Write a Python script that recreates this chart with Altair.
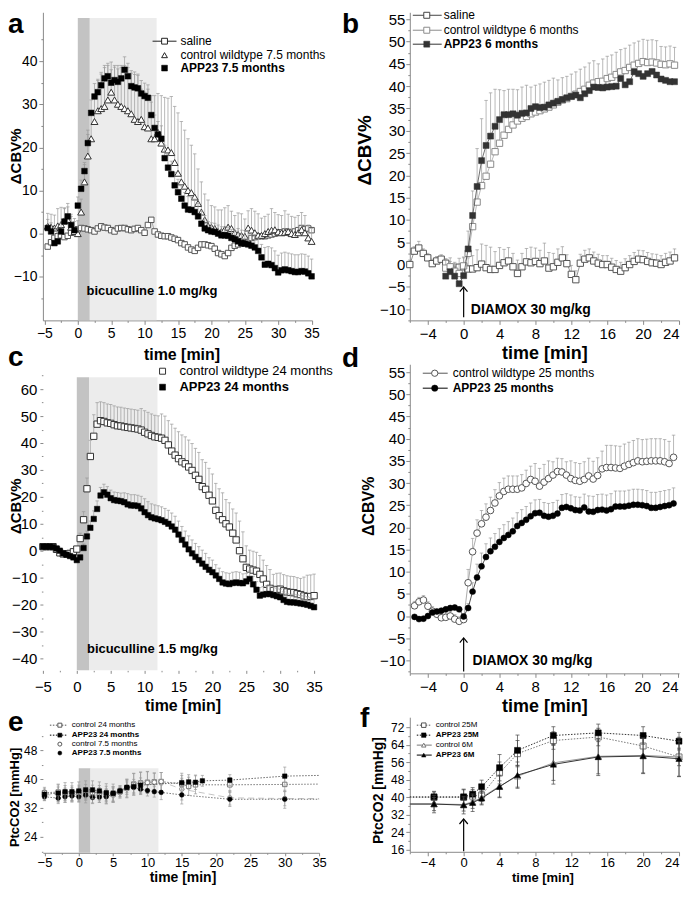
import altair as alt
import pandas as pd

FONT = "Liberation Sans"

# ====================== DATA ======================
# ---- panel a: bicuculline 1.0 mg/kg, 7.5 months (0.5-min grid, -4.5 .. 35 min)
a_t = [round(-4.5 + 0.5 * i, 1) for i in range(80)]
a_saline = [-3, -2, -1, -0.6, -0.4, -0.8, -0.5, 0.2, 0.5, 1,
            1.3, 1.2, 1.0, 0.8, 0.5, 1.2, 1.7, 1.4, 1.3, 0.8,
            0.5, 1.2, 1.3, 1.3, 1.0, 0.8, 1.1, 1.3, 0.8, 0.2,
            2.0, 3.2, 0.5, -0.2, -0.5, -0.6, -0.6, -0.9, -1.2, -1.5,
            -2.2, -2.5, -3.2, -3.7, -4.0, -3.3, -2.5, -2.5, -2.7, -2.9,
            -3.5, -4.5, -4.8, -5.2, -4.5, -3.3, -2.8, -2.5, -2.3, -2.2,
            -1.5, -1.0, -0.8, -0.6, -0.6, -0.6, -0.4, -0.2, 0, 0.2,
            0.3, 0.5, 0.4, 0.2, 0.5, 0.8, 1.3, 1.0, 1.2, 0.8]
a_ctrl = [1.7, 1.5, 1.3, 1.8, 2.1, 3.0, 3.2, 1.5, 0.5, 0,
          5, 12, 18, 22, 26, 28.5, 29, 29.5, 31, 32.8,
          31, 30, 29.5, 29, 28.5, 27.8, 26.5, 26, 26.5, 24.8,
          24.5, 22, 22, 23.5, 21, 19.6, 19.4, 18.8, 16.5, 14,
          12, 11, 10, 9.5, 8.5, 7, 5, 3.2, 1.8, 1.5,
          1.2, 0.5, 0.5, 1.0, 1.5, 1.2, 0.2, -0.2, -0.4, -0.6,
          1.3, 0.8, 0.2, -0.4, -0.4, 0, 0.5, 0.8, 0.9, 0.4,
          0.2, 0.3, 0.5, 0, -0.2, 0.2, 0.9, 0.2, -1.0, -1.8]
a_ctrl_err = [3, 3, 3, 4, 4, 3, 3, 3, 3, 3,
              3, 4, 5, 6, 6, 7, 8, 9, 8, 7,
              8, 9, 9, 10, 10, 10, 11, 11, 7, 8,
              9, 10, 10, 9, 11, 12, 12, 13, 13, 14,
              14, 13, 12, 11, 10, 8, 7, 6, 6, 5,
              5, 5, 5, 5, 5, 4, 4, 5, 5, 4,
              4, 5, 5, 5, 4, 4, 4, 5, 4, 4,
              4, 5, 4, 4, 4, 4, 4, 4, 3, 3]
a_app = [1.3, 0.5, -2.2, -1.8, 0.5, 2.8, 4.0, 2.0, 0.8, 6.5,
         10.4, 14.5, 21, 28, 31.8, 32.8, 34.4, 36, 36.5, 35,
         35.6, 35.2, 36, 38, 36.5, 34.2, 33.9, 33.7, 32.5, 31.9,
         31.5, 27.5, 24.5, 23, 22, 17.5, 15.3, 13.8, 11.2, 9.6,
         8.1, 6.5, 5.6, 5.5, 5, 4, 2.3, 1.2, 0.8, 0.5,
         0.4, 0, -0.4, -0.4, -0.5, -1, -1.3, -1.8, -2.2, -2.3,
         -2.5, -2.8, -3.2, -4, -5.5, -7.2, -7, -7.3, -8, -9,
         -8.5, -8.3, -8.5, -8.7, -8.9, -8.9, -8.7, -8.8, -9.2, -9.9]
a_app_err = [2, 2, 2, 2, 2, 3, 3, 2, 2, 2,
             2, 2, 3, 3, 3, 3, 3, 3, 3, 3,
             3, 3, 3, 3, 3, 3, 3, 3, 3, 3,
             3, 3, 3, 3, 3, 3, 3, 3, 3, 3,
             3, 3, 3, 3, 3, 3, 3, 3, 2, 2,
             2, 2, 2, 2, 2, 2, 2, 3, 3, 3,
             3, 3, 3, 3, 3, 4, 4, 4, 4, 4,
             4, 4, 4, 4, 4, 4, 4, 4, 4, 4]

# ---- panel b: DIAMOX, 6 months
b_t_saline = [round(-6 + 0.5 * i, 1) for i in range(60)]
b_saline = [0, 3.0, 3.7, 2.5, 1.5, 0.2, 0.8, 1.2, 0.3, -0.8,
            -1.3, -0.6, -0.5, -1.0, -1.0, -0.7, 0.1, -0.7, -1.1, -1.1,
            -0.2, 0.4, 0.8, -0.5, -2.0, -0.5, 0.6, 0.4, 0.7, 0.2,
            0.8, -0.8, -0.5, 0.5, 1.5, 0.2, -2.2, -3.4, 0.3, 1.2,
            1.5, 0.8, 0.3, 0, 0, -0.6, -1.1, -1.5, -0.7, 0,
            0.7, 1.2, 1.1, 0.7, 0.4, 0.3, 0, 0.5, 0.8, 1.5]
b_saline_err = [1, 1, 1.5, 1, 1, 1, 1, 1, 1, 1.5,
                1.5, 2, 2, 2.5, 3, 4, 4.5, 5, 5, 4,
                4, 3, 3, 3, 3, 3, 3, 3.5, 3, 3,
                4, 3.5, 3, 3, 2.5, 2, 2, 2, 2, 2,
                2, 2, 2, 2, 2, 2, 2, 2, 2, 2,
                2, 2, 2, 2, 2, 2, 2, 2, 2, 2]
b_t = [round(-2 + 0.5 * i, 1) for i in range(52)]
b_ctrl = [-0.8, -0.5, -1.5, -2.0, -0.3, 2.5, 8.5, 14, 17.7, 19.8,
          22.5, 25.3, 27.2, 29, 30.3, 31.3, 32.2, 32.8, 33.2, 33.8,
          34.2, 34.5, 34.9, 35.3, 35.8, 36.4, 36.9, 37.2, 37.7, 38.2,
          38.8, 39.3, 40.2, 40.7, 41, 41.1, 41.7, 42, 42.6, 43.2,
          43.5, 44.2, 44.7, 45.1, 45.5, 45.3, 45.4, 45.2, 44.9, 44.8,
          45.0, 44.7]
b_ctrl_err = [2, 2, 2, 2, 2, 5, 8, 12, 15, 17,
              16, 14, 12, 10, 9, 8, 7, 7, 7, 6,
              6, 6, 6, 6, 6, 5, 5, 5, 5, 5,
              5, 5, 5, 5, 4, 5, 5, 5, 5, 5,
              5, 5, 5, 5, 5, 5, 5, 5, 4, 4,
              4, 4]
b_app = [-2.6, -1.6, -2.6, -4.3, -2.5, 3.5, 11, 17.5, 23.3, 26.7,
         28.8, 31, 32.5, 33.6, 33.6, 33.8, 33.5, 33.9, 34, 35,
         35.4, 35.2, 35.3, 35.8, 36.2, 36.6, 37, 37.4, 37.7, 38,
         37.4, 38.3, 39, 39.8, 39.7, 39.6, 39.8, 39.9, 40, 41.7,
         40.3, 41, 43.2, 42.8, 42.2, 42.8, 43.3, 42.5, 41.6, 41.3,
         41.0, 41.0]

# ---- panel c: bicuculline 1.5 mg/kg, 24 months (-5 .. 35 min)
c_t = [round(-5 + 0.5 * i, 1) for i in range(81)]
c_ctrl = [1.5, 1.5, 1.5, 1.5, 0.5, -0.8, -1.2, -1.2, -1.0, -0.4,
          0.6, 4.5, 11.5, 23, 35, 42.5, 47, 48.3, 48, 47.5,
          47.3, 46.8, 46.4, 46.3, 46, 45.8, 45.6, 45.4, 45.2, 44.8,
          44, 43.4, 42.8, 42.3, 42.1, 41.8, 41, 39.3, 37, 35.5,
          34.2, 33, 32.3, 31.1, 29.8, 28, 26.5, 23.8, 22.8, 20.6,
          18.5, 15, 13, 11.5, 10, 8.8, 6.5, 4, 0, -3,
          -6.2, -6.8, -7.2, -7.6, -8.8, -10.5, -12.5, -14, -14.8, -14.4,
          -14.3, -14.9, -15.3, -15.5, -15.6, -16, -16.3, -16.8, -17.1, -17,
          -16.7]
c_ctrl_err = [1, 1, 1, 1, 1, 1, 1, 1, 1, 1,
              1, 2, 3, 4, 6, 8, 8, 7, 7, 7,
              7, 7, 7, 7, 7, 7, 7, 7, 7, 8,
              8, 8, 8, 8, 8, 9, 9, 9, 10, 10,
              10, 10, 10, 10, 10, 10, 10, 10, 10, 10,
              10, 10, 10, 10, 9, 9, 9, 10, 11, 10,
              8, 7, 7, 7, 7, 7, 7, 7, 6, 6,
              6, 6, 6, 6, 6, 6, 6, 7, 8, 8,
              8]
c_app = [1.5, 1.5, 1.5, 1.4, 0.8, 0, -1.0, -1.5, -2.0, -2.5,
         -3.5, -2.5, 1, 5.3, 8.5, 11.8, 15.5, 20.5, 21.7, 20.8,
         19.5, 18.8, 18.6, 18.4, 18, 17.2, 16.8, 16.8, 16.6, 15.7,
         14.3, 13.2, 12.4, 12, 11.7, 11.3, 10.7, 10, 9, 7.8,
         6, 4, 2.3, 0.5, -1, -2.3, -3.5, -4.8, -6, -7.1,
         -8, -9.2, -10.5, -11.8, -12.2, -12.4, -12, -11.8, -12, -12.1,
         -11.4, -10.5, -12.5, -14.5, -16.7, -16.3, -16.1, -16.1, -16.5, -16.9,
         -17.3, -18.3, -19, -19.2, -19.2, -19.4, -19.6, -19.8, -20.1, -20.5,
         -21]
c_app_err = [0.5, 0.5, 0.5, 0.5, 0.5, 0.5, 0.5, 0.5, 0.5, 0.5,
             0.5, 1, 1.5, 2, 2.5, 3, 3, 3, 3, 3,
             3, 3, 3, 3, 3.5, 4, 4, 4, 4, 4.5,
             5, 5, 5, 5, 5, 5, 5, 5, 5, 5,
             5, 5, 5, 5, 5, 5, 5, 5, 5, 4.5,
             4.5, 4, 4, 4, 4, 4, 4, 4, 4, 3.5,
             3, 3, 3, 3, 3, 3, 3, 3, 3, 3,
             3, 3, 3, 3, 3, 3, 3, 3, 3, 3,
             3]

# ---- panel d: DIAMOX, 25 months (-5.5 .. 23.5 min)
d_t = [round(-5.5 + 0.5 * i, 1) for i in range(59)]
d_ctrl = [2.3, 3.2, 3.6, 2.2, 1.1, 0.4, -0.4, -0.3, 0, -0.7,
          -1.2, -0.8, 7.5, 14.5, 18.7, 20.8, 22.3, 23.8, 25.5, 27.1,
          28.1, 28.6, 28.6, 28.6, 28.9, 29.9, 30.8, 30.4, 29.3, 30.2,
          31, 31.8, 32.6, 32.5, 31.8, 31, 30.6, 30.4, 30.8, 31.6,
          30.9, 31.7, 33.2, 33.5, 33.5, 33.4, 33.3, 33.8, 34.2, 34.6,
          35, 34.8, 34.9, 35, 35, 35, 34.8, 34.4, 35.8]
d_ctrl_err = [1, 1, 1, 1, 1, 1, 1, 1, 1, 1,
              1, 1, 3, 3, 3, 3, 3, 3, 3, 3,
              3, 3, 3, 3, 3, 3, 3, 4, 4, 4,
              4, 3, 3, 3, 3, 4, 4, 4, 4, 4,
              4, 4, 4, 5, 5, 5, 5, 5, 5, 5,
              5, 5, 5, 5, 5, 5, 5, 5, 5]
d_app = [-0.2, -0.7, -0.6, 0, 0.8, 1.0, 1.2, 1.5, 1.8, 1.9,
         1.5, -0.1, 1.8, 5.5, 8.7, 11.2, 13.3, 14.6, 15.6, 16.7,
         17.6, 18.3, 19.1, 20.3, 21, 21.7, 22.5, 23.2, 23.3, 22.6,
         22.4, 22.6, 23.1, 24.4, 24.6, 24.3, 23.9, 23.8, 24.5, 23.6,
         23.5, 23.9, 24, 23.8, 24.1, 24.7, 24.7, 24.7, 24.9, 25.1,
         25.1, 25, 24.8, 24.4, 24.4, 24.6, 24.8, 25, 25.4]
d_app_err = [0.5, 0.5, 0.5, 0.5, 0.5, 0.5, 0.5, 0.5, 0.5, 0.5,
             0.5, 0.5, 1, 2, 3, 3, 3, 3, 3, 3,
             3, 3, 3, 3, 3, 3, 3, 3, 3, 3,
             3, 3, 3, 3, 3, 3, 3, 3, 3, 3.5,
             3.5, 3.5, 3.5, 3.5, 3.5, 3.5, 3.5, 3.5, 3.5, 3.5,
             3.5, 3.5, 3.5, 3.5, 3.5, 3.5, 3.5, 3.5, 3.5]

# ---- panel e: PtcCO2 during bicuculline
e_ctrl24_t = [-5, -3, -2, -1, 0, 1, 2, 3, 4, 5, 6, 7, 8, 9, 10, 11, 12, 15, 16, 17, 22, 30, 35]
e_ctrl24_v = [36.2, 36.4, 36.2, 36.1, 36.3, 36.5, 36.3, 36.2, 36.0, 35.8, 36.5, 37.5,
              38.6, 38.9, 39.1, 39.2, 39.3, 38.6, 38.0, 38.4, 38.4, 38.5, 38.6]
e_ctrl24_err = [1.5, 2, 2, 2, 2, 2, 2, 2, 2, 2, 1.5, 2.5, 3, 3, 3, 2.5, 2.5, 3, 2.5, 2.5, 2, 2, 0]
e_app24_t = [-5, -3, -2, -1, 0, 1, 2, 3, 4, 5, 6, 7, 8, 9, 15, 16, 17, 18, 22, 30, 35]
e_app24_v = [35.8, 36.1, 36.5, 36.5, 36.7, 37, 37, 36.7, 36.2, 36.1, 36.7, 37.7, 37.9, 38.3,
             39, 39.2, 39.1, 39.5, 39.7, 40.8, 41.0]
e_app24_err = [1.5, 2.5, 2.5, 2.5, 2.5, 2.5, 2.5, 2.5, 2.5, 2.5, 1.5, 2, 2, 2, 2, 2, 2, 1.5, 1.5, 2.5, 0]
e_ctrl7_t = [-5, -3, -2, -1, 0, 1, 2, 3, 4, 5, 6, 7, 8, 9, 10, 11, 12, 15, 22, 30, 35]
e_ctrl7_v = [35.5, 35.8, 35.5, 35.6, 35.8, 35.4, 35.2, 35.6, 35.3, 35.5, 36.2, 37.3, 38.5, 38.9,
             39, 39.1, 39.3, 37.2, 34.8, 34.6, 34.6]
e_ctrl7_err = [1.5, 2, 2, 2, 2, 2, 2, 2, 2, 2, 1.5, 2.5, 3, 3, 3, 2.5, 2.5, 3, 2, 2, 0]
e_app7_t = [-5, -3, -2, -1, 0, 1, 2, 3, 4, 5, 6, 7, 8, 9, 10, 11, 12, 15, 22, 30, 35]
e_app7_v = [35.1, 34.7, 35.1, 35.3, 35.1, 35.6, 34.9, 35, 35.1, 35.9, 36.7, 37.7, 37.7, 37.2,
            36.8, 36.5, 36.3, 35.6, 34.4, 34.4, 34.4]
e_app7_err = [1, 1.5, 1.5, 1.5, 1.5, 1.5, 1.5, 1.5, 2, 2, 1, 1.5, 1.5, 1.5, 1.5, 1.5, 2, 2.5, 2, 2.5, 0]

# ---- panel f: PtcCO2 during DIAMOX
f_t = [-6, -3.3, 0, 1, 2, 4, 6, 10, 15, 20, 24]
f_ctrl25 = [39.9, 39.9, 39.9, 40.5, 41, 51.1, 59.9, 65.9, 67.5, 63.4, 58.4]
f_ctrl25_err = [0, 2.5, 3.5, 3, 3, 5, 6, 4, 4, 4, 4]
f_app25 = [40.2, 40.2, 40.2, 41.4, 44.8, 53.5, 61.4, 68.2, 69.4, 68.2, 65.6]
f_app25_err = [0, 2.5, 3.5, 3, 3, 6, 7, 4, 4, 4, 4]
f_ctrl6 = [36.9, 36.9, 36.7, 37.9, 39.9, 45.1, 49.6, 55.7, 58.7, 59.1, 58.4]
f_ctrl6_err = [0, 3, 3, 3, 3, 5, 5, 8, 8, 8, 9]
f_app6 = [36.9, 36.9, 36.4, 37.5, 39.5, 44.8, 50.1, 55.0, 58.4, 58.8, 57.6]
f_app6_err = [0, 4, 4, 4, 3, 5, 6, 9, 8.5, 8, 8]

for _t, _vs in [(a_t, [a_saline, a_ctrl, a_ctrl_err, a_app, a_app_err]),
                (b_t_saline, [b_saline, b_saline_err]), (b_t, [b_ctrl, b_ctrl_err, b_app]),
                (c_t, [c_ctrl, c_ctrl_err, c_app, c_app_err]),
                (d_t, [d_ctrl, d_ctrl_err, d_app, d_app_err])]:
    for _v in _vs:
        assert len(_v) == len(_t), (len(_v), len(_t))

# ====================== GEOMETRY (pixel layout of plot areas) ======================
GEOM = {
    "a": dict(L=43, T=12, R=313, B=321, xc=(78, 0, 145, 10), yc=(234, 0, 61, 40)),
    "b": dict(L=411, T=12, R=681, B=321, xc=(465, 0, 681, 24), yc=(265, 0, 19, 55)),
    "c": dict(L=43, T=365, R=316, B=672, xc=(77, 0, 315, 35), yc=(660, -40, 390, 60)),
    "d": dict(L=411, T=365, R=681, B=675, xc=(465, 0, 680, 24), yc=(617.5, 0, 373, 55)),
    "e": dict(L=43, T=719, R=320, B=855, xc=(79, 0, 320, 35), yc=(839, 24, 752, 48)),
    "f": dict(L=411, T=719, R=681, B=854, xc=(465, 0, 681, 24), yc=(852, 16, 729, 72)),
}
COLSP = GEOM["b"]["L"] - max(GEOM[k]["R"] for k in "ace")
ROWSP = GEOM["c"]["T"] - GEOM["a"]["B"]
ERRC = "#9a9a9a"
ONE = pd.DataFrame({"k": [0]})


def calib(c):
    p1, v1, p2, v2 = c
    return lambda p: v1 + (p - p1) * (v2 - v1) / (p2 - p1)


def ticks(lo, hi, step, major, llo, lhi, big=4, small=2):
    """Tick positions (major + minor) and the axis properties that label only the majors."""
    n = int(round((hi - lo) / step))
    vals = [round(lo + step * i, 3) for i in range(n + 1)]
    is_major = f"abs(datum.value % {major}) < 0.001"
    return dict(
        values=vals,
        labelExpr=f"({is_major} && datum.value >= {llo} && datum.value <= {lhi}) ? datum.label : ''",
        tickSize={"condition": {"test": is_major, "value": big}, "value": small},
    )


def ax(**kw):
    base = dict(grid=False, labelFont=FONT, titleFont=FONT, labelColor="black",
                titleColor="black", domainColor="#8a8a8a", tickColor="#8a8a8a",
                labelFlush=False, labelOverlap=False, titleFontWeight="bold",
                titleBaseline="middle", titleAlign="center")
    base.update(kw)
    return alt.Axis(**base)


class Panel:
    def __init__(self, key, xaxis, yaxis):
        g = GEOM[key]
        self.g = g
        fx, fy = calib(g["xc"]), calib(g["yc"])
        self.xd = [fx(g["L"]), fx(g["R"])]
        self.yd = [fy(g["B"]), fy(g["T"])]
        self.w = g["R"] - g["L"]
        self.h = g["B"] - g["T"]
        self.xs = alt.Scale(domain=self.xd, nice=False, zero=False)
        self.ys = alt.Scale(domain=self.yd, nice=False, zero=False)
        self.xa, self.ya = xaxis, yaxis
        self.layers = []

    def X(self, f):
        return alt.X(f"{f}:Q", scale=self.xs, axis=self.xa)

    def Y(self, f):
        return alt.Y(f"{f}:Q", scale=self.ys, axis=self.ya)

    def shade(self, spans, top):
        df = pd.DataFrame({"x0": [s[0] for s in spans], "x1": [s[1] for s in spans],
                           "y0": [self.yd[0]] * len(spans), "y1": [top] * len(spans),
                           "c": [s[2] for s in spans]})
        self.layers.append(alt.Chart(df).mark_rect().encode(
            x=self.X("x0"), x2="x1", y=self.Y("y0"), y2="y1",
            color=alt.Color("c:N", scale=None)))

    def series(self, t, v, err=None, sym=False, shape="square", open_=False, color="black",
               size=36, line=None, lw=0.8, lcolor=None, pfilter=None, ecolor=ERRC, capsize=12):
        df = pd.DataFrame({"t": t, "v": v})
        if err is not None:
            df["hi"] = [a + b for a, b in zip(v, err)]
            df["lo"] = [a - b for a, b in zip(v, err)] if sym else list(v)
            edf = df[[e > 0 for e in err]]
            self.layers.append(alt.Chart(edf).mark_rule(color=ecolor, strokeWidth=0.7).encode(
                x=self.X("t"), y=self.Y("lo"), y2="hi"))
            self.layers.append(alt.Chart(edf).mark_point(
                shape="stroke", size=capsize, color=ecolor, strokeWidth=0.7, opacity=1).encode(
                x=self.X("t"), y=self.Y("hi")))
            if sym:
                self.layers.append(alt.Chart(edf).mark_point(
                    shape="stroke", size=capsize, color=ecolor, strokeWidth=0.7, opacity=1).encode(
                    x=self.X("t"), y=self.Y("lo")))
        if line:
            kw = dict(color=lcolor or color, strokeWidth=lw)
            if line == "dot":
                kw["strokeDash"] = [1.5, 1.5]
            elif line == "dash":
                kw["strokeDash"] = [6, 4]
            self.layers.append(alt.Chart(df).mark_line(**kw).encode(x=self.X("t"), y=self.Y("v")))
        pdf = df if pfilter is None else df[[pfilter(x) for x in df["t"]]]
        if open_:
            m = alt.Chart(pdf).mark_point(shape=shape, size=size, filled=True, fill="white",
                                          stroke=color, strokeWidth=1, opacity=1)
        else:
            m = alt.Chart(pdf).mark_point(shape=shape, size=size, filled=True, fill=color,
                                          stroke=color, strokeWidth=0.5, opacity=1)
        self.layers.append(m.encode(x=self.X("t"), y=self.Y("v")))

    def note(self, t, v, s, fs=13):
        df = pd.DataFrame({"t": [t], "v": [v]})
        self.layers.append(alt.Chart(df).mark_text(
            text=s, align="left", baseline="middle", font=FONT, fontSize=fs,
            fontWeight="bold", color="black").encode(x=self.X("t"), y=self.Y("v")))

    def arrow(self, t, lo, hi, head=60):
        df = pd.DataFrame({"t": [t], "lo": [lo], "hi": [hi]})
        self.layers.append(alt.Chart(df).mark_rule(color="black", strokeWidth=1.2).encode(
            x=self.X("t"), y=self.Y("lo"), y2="hi"))
        self.layers.append(alt.Chart(df).mark_point(
            shape="M-1,0.9L0,-0.3L1,0.9", size=head, filled=False, color="black",
            strokeWidth=1.2, opacity=1).encode(x=self.X("t"), y=self.Y("hi")))

    def legend(self, items, xline, xsym, xtext, ys, fs, sym_size):
        for it, y in zip(items, ys):
            label, shape, open_, color, line, bold = it
            if line:
                kw = dict(color=color, strokeWidth=1)
                if line == "dot":
                    kw["strokeDash"] = [1.5, 1.5]
                self.layers.append(alt.Chart(ONE).mark_rule(**kw).encode(
                    x=alt.value(xline[0]), x2=alt.value(xline[1]), y=alt.value(y)))
            if open_:
                m = alt.Chart(ONE).mark_point(shape=shape, size=sym_size, filled=True, fill="white",
                                              stroke=color, strokeWidth=1, opacity=1)
            else:
                m = alt.Chart(ONE).mark_point(shape=shape, size=sym_size, filled=True, fill=color,
                                              stroke=color, strokeWidth=0.5, opacity=1)
            self.layers.append(m.encode(x=alt.value(xsym), y=alt.value(y)))
            self.layers.append(alt.Chart(ONE).mark_text(
                text=label, align="left", baseline="middle", font=FONT, fontSize=fs,
                fontWeight="bold" if bold else "normal", color="black").encode(
                x=alt.value(xtext), y=alt.value(y)))

    def letter(self, ch, dx, dy, fs=28):
        self.layers.append(alt.Chart(ONE).mark_text(
            text=ch, align="left", baseline="top", font=FONT, fontSize=fs,
            fontWeight="bold", color="black").encode(x=alt.value(dx), y=alt.value(dy)))

    def chart(self):
        return alt.layer(*self.layers).properties(width=self.w, height=self.h)


DARK = "#c3c3c3"
LIGHT = "#ececec"

# ---------------- panel a ----------------
pa = Panel("a",
           ax(**ticks(-5, 35, 2.5, 5, -5, 35, 4, 2), title="time [min]", titleFontSize=16,
              labelFontSize=14, labelPadding=2, titleX=139, titleY=34),
           ax(**ticks(-15, 45, 5, 10, -10, 40, 4, 2), title="ΔCBV%", titleFontSize=15,
              labelFontSize=14, labelPadding=2, titleX=-27, titleY=144))
pa.shade([(0, 1.8, DARK), (1.8, 11.8, LIGHT)], 50)
pa.series(a_t, a_saline, shape="square", open_=True, color="#555555", size=30, line="solid",
          lw=0.6, lcolor="#777777")
pa.series(a_t, a_ctrl, err=a_ctrl_err, shape="triangle-up", open_=True, color="#333333", size=48)
pa.series(a_t, a_app, err=a_app_err, shape="square", color="black", size=32)
pa.note(1.3, -13.2, "bicuculline 1.0 mg/kg", 13)
pa.legend([("saline", "square", True, "#222222", "solid", False),
           ("control wildtype 7.5 months", "triangle-up", True, "#222222", None, False),
           ("APP23 7.5 months", "square", False, "black", None, True)],
          (110, 134), 122, 138, [29, 43, 56], 12, 34)
pa.letter("a", -35, -1)

# ---------------- panel b ----------------
pb = Panel("b",
           ax(**ticks(-6, 24, 2, 4, -4, 24, 4, 2), title="time [min]", titleFontSize=18,
              labelFontSize=15, labelPadding=2, titleX=135, titleY=33, labelFlush=3),
           ax(**ticks(-12.5, 55, 2.5, 5, -10, 55, 4, 2), title="ΔCBV%", titleFontSize=19,
              labelFontSize=15, labelPadding=1, titleX=-45, titleY=138))
pb.series(b_t_saline, b_saline, err=b_saline_err, shape="square", open_=True, color="#555555",
          size=40, line="solid", lw=0.7, lcolor="#666666")
pb.series(b_t, b_ctrl, err=b_ctrl_err, shape="square", open_=True, color="#8c8c8c", size=40,
          line="solid", lw=0.7, lcolor="#9a9a9a")
pb.series(b_t, b_app, shape="square", color="#333333", size=36, line="solid", lw=0.7)
pb.arrow(0, -11.8, -5.3)
pb.note(0.8, -10.1, "DIAMOX 30 mg/kg", 14)
pb.legend([("saline", "square", True, "#444444", "solid", False),
           ("control wildtype 6 months", "square", True, "#8c8c8c", "solid", False),
           ("APP23 6 months", "square", False, "#333333", "solid", True)],
          (3, 32), 17, 34, [3, 18, 32], 12, 36)
pb.letter("b", -68, -1)

# ---------------- panel c ----------------
pc = Panel("c",
           ax(**ticks(-5, 35, 2.5, 5, -5, 35, 3, 1.5), title="time [min]", titleFontSize=16,
              labelFontSize=15, labelPadding=6, domain=False, titleX=140, titleY=35),
           ax(**ticks(-45, 65, 5, 10, -40, 60, 3, 1.5), title="ΔCBV%", titleFontSize=15,
              labelFontSize=15, labelPadding=3, domain=False, titleX=-27, titleY=142))
pc.shade([(0, 1.8, DARK), (1.8, 11.9, LIGHT)], 64.4)
pc.series(c_t, c_ctrl, err=c_ctrl_err, shape="square", open_=True, color="#333333", size=40)
pc.series(c_t, c_app, err=c_app_err, shape="square", color="black", size=30)
pc.note(1.5, -36.7, "bicuculline 1.5 mg/kg", 13)
pc.legend([("control wildtype 24 months", "square", True, "#333333", None, False),
           ("APP23 24 months", "square", False, "black", None, True)],
          (0, 0), 120, 137, [7, 23], 13, 36)
pc.letter("c", -35, -20)

# ---------------- panel d ----------------
pd_ = Panel("d",
            ax(**ticks(-6, 24, 2, 4, -4, 24, 4, 2), title="time [min]", titleFontSize=18,
               labelFontSize=15, labelPadding=2, titleX=135, titleY=33, labelFlush=3),
            ax(**ticks(-12.5, 55, 2.5, 5, -10, 55, 4, 2), title="ΔCBV%", titleFontSize=16,
               labelFontSize=15, labelPadding=1, titleX=-41, titleY=142))
pd_.series(d_t, d_ctrl, err=d_ctrl_err, shape="circle", open_=True, color="#555555", size=45,
           line="solid", lw=0.7, lcolor="#888888")
pd_.series(d_t, d_app, err=d_app_err, shape="circle", color="black", size=36, line="solid", lw=0.7)
pd_.arrow(0, -12.5, -5.2)
pd_.note(1.0, -10.2, "DIAMOX 30 mg/kg", 14)
pd_.legend([("control wildtype 25 months", "circle", True, "#555555", "solid", False),
            ("APP23 25 months", "circle", False, "black", "solid", True)],
           (13, 38), 25, 43, [9, 24], 12, 40)
pd_.letter("d", -68, -19)

# ---------------- panel e ----------------
pe = Panel("e",
           ax(**ticks(-5, 35, 2.5, 5, -5, 35, 3, 1.5), title="time [min]", titleFontSize=14,
              labelFontSize=13, labelPadding=1, titleX=140, titleY=25),
           ax(**ticks(20, 52, 4, 8, 24, 48, 3, 1.5), title="PtcCO2 [mmHg]", titleFontSize=13,
              labelFontSize=12, labelPadding=3, domain=False, titleX=-28, titleY=80))
pe.shade([(0, 1.7, DARK), (1.7, 11.6, LIGHT)], 43.0)
keep_e = (lambda x: x < 34)
pe.series(e_ctrl24_t, e_ctrl24_v, err=e_ctrl24_err, sym=True, shape="square", open_=True,
          color="#777777", size=20, line="dot", lw=0.8, lcolor="#555555", pfilter=keep_e, capsize=10)
pe.series(e_ctrl7_t, e_ctrl7_v, err=e_ctrl7_err, sym=True, shape="circle", open_=True,
          color="#888888", size=20, line="dash", lw=0.7, lcolor="#aaaaaa", pfilter=keep_e, capsize=10)
pe.series(e_app7_t, e_app7_v, err=e_app7_err, sym=True, shape="circle", color="black", size=22,
          line="dot", lw=0.8, lcolor="#555555", pfilter=keep_e, capsize=10)
pe.series(e_app24_t, e_app24_v, err=e_app24_err, sym=True, shape="square", color="black", size=20,
          line="dot", lw=0.8, lcolor="#444444", pfilter=keep_e, capsize=10)
pe.legend([("control 24 months", "square", True, "#555555", "dot", False),
           ("APP23 24 months", "square", False, "black", "dot", True),
           ("control 7.5 months", "circle", True, "#555555", None, False),
           ("APP23 7.5 months", "circle", False, "black", None, True)],
          (7, 25), 17, 29, [8, 18, 27, 36], 8, 16)
pe.letter("e", -35, -8)

# ---------------- panel f ----------------
pf = Panel("f",
           ax(**ticks(-6, 24, 2, 4, -4, 24, 4, 2), title="time [min]", titleFontSize=13,
              labelFontSize=13, labelPadding=1, titleX=133, titleY=26, labelFlush=3),
           ax(**ticks(16, 72, 4, 8, 16, 72, 4, 2), title="PtcCO2 [mmHg]", titleFontSize=14,
              labelFontSize=12, labelPadding=2, titleX=-31, titleY=73))
keep_f = (lambda x: x > -5)
pf.series(f_t, f_ctrl25, err=f_ctrl25_err, sym=True, shape="square", open_=True, color="#777777",
          size=36, line="dot", lw=1, lcolor="#777777", pfilter=keep_f, ecolor="#444444", capsize=16)
pf.series(f_t, f_app25, err=f_app25_err, sym=True, shape="square", color="black", size=36,
          line="dot", lw=1, lcolor="#333333", pfilter=keep_f, ecolor="#444444", capsize=16)
pf.series(f_t, f_ctrl6, err=f_ctrl6_err, sym=True, shape="triangle-up", open_=True, color="#888888",
          size=40, line="solid", lw=1, lcolor="#999999", pfilter=keep_f, ecolor="#444444", capsize=16)
pf.series(f_t, f_app6, err=f_app6_err, sym=True, shape="triangle-up", color="black", size=40,
          line="solid", lw=1, lcolor="#333333", pfilter=keep_f, ecolor="#444444", capsize=16)
pf.arrow(0, 15.3, 29.5, head=70)
pf.legend([("control 25M", "square", True, "#555555", "dot", False),
           ("APP23 25M", "square", False, "black", "dot", True),
           ("control 6M", "triangle-up", True, "#777777", "solid", False),
           ("APP23 6M", "triangle-up", False, "black", "solid", True)],
          (7, 22), 14, 26, [8, 18, 28, 38], 8, 20)
pf.letter("f", -50, -12)

# ====================== LAYOUT ======================
chart = alt.concat(pa.chart(), pb.chart(), pc.chart(), pd_.chart(), pe.chart(), pf.chart(),
                   columns=2, spacing=alt.RowColnumber(row=ROWSP, column=COLSP),
                   bounds="flush", padding=0)
chart = chart.configure(font=FONT).configure_view(stroke=None)

chart.save("out.html", embed_options={"renderer": "svg", "actions": False})
